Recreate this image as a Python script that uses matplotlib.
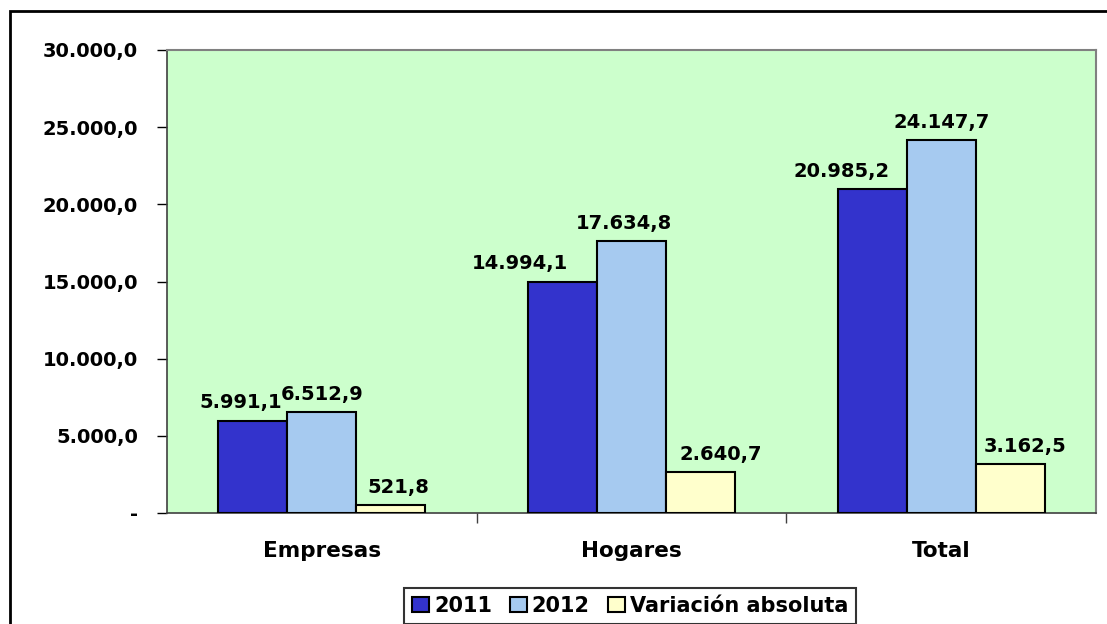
import matplotlib.pyplot as plt
import numpy as np
from matplotlib.patches import Rectangle

categories = ["Empresas", "Hogares", "Total"]
series_names = ["2011", "2012", "Variación absoluta"]
values_2011 = [5991.1, 14994.1, 20985.2]
values_2012 = [6512.9, 17634.8, 24147.7]
values_var = [521.8, 2640.7, 3162.5]
yticks = [0, 5000, 10000, 15000, 20000, 25000, 30000]

colors = ["#3333CC", "#A6CAF0", "#FFFFCC"]
# horizontal nudges (pixels) for data labels, per series / category
label_dx = [[-12, -43, -31], [0, -8, 0], [7, 20, 15]]


def fmt(v):
    if v == 0:
        return "-"
    s = f"{v:,.1f}"
    return s.replace(",", "X").replace(".", ",").replace("X", ".")


plt.rcParams["font.family"] = ["DejaVu Sans"]
plt.rcParams["font.weight"] = "bold"

fig = plt.figure(figsize=(11.07, 6.24), dpi=100)
ax = fig.add_axes([167 / 1107, 1 - 513 / 624, (1096 - 167) / 1107, (513 - 50) / 624])
ax.set_facecolor("#CCFFCC")

x = np.arange(len(categories))
w = 0.223
data = [values_2011, values_2012, values_var]
for i, (vals, col) in enumerate(zip(data, colors)):
    bars = ax.bar(x + (i - 1) * w, vals, w, color=col, edgecolor="black",
                  linewidth=1.5, label=series_names[i], zorder=3)
    for j, (b, v) in enumerate(zip(bars, vals)):
        ax.annotate(fmt(v), (b.get_x() + b.get_width() / 2, v),
                    xytext=(label_dx[i][j] * 0.72, 6), textcoords="offset points",
                    ha="center", va="bottom", fontsize=14, fontweight="bold")

ax.set_xlim(-0.5, 2.5)
ax.set_ylim(0, 30000)
ax.set_yticks(yticks)
ax.set_yticklabels([fmt(t) for t in yticks])
ax.set_xticks(x)
ax.set_xticklabels(categories)
ax.set_xticks([0.5, 1.5], minor=True)
ax.tick_params(axis="x", which="major", length=0, pad=20, labelsize=15.5)
ax.tick_params(axis="x", which="minor", length=7, width=1, color="#404040", direction="out")
ax.tick_params(axis="y", length=7, width=1, color="black", direction="out", pad=14, labelsize=14)

for s in ["top", "right"]:
    ax.spines[s].set_color("#808080")
    ax.spines[s].set_linewidth(1.5)
ax.spines["left"].set_color("#404040")
ax.spines["bottom"].set_color("#404040")
ax.spines["left"].set_linewidth(1.2)
ax.spines["bottom"].set_linewidth(1.2)

leg = ax.legend(loc="upper left", bbox_to_anchor=(404 / 1107, 1 - 588 / 624),
                bbox_transform=fig.transFigure, ncol=3, frameon=True, fancybox=False,
                fontsize=15, handlelength=0.82, handleheight=0.72, handletextpad=0.24,
                columnspacing=0.85, borderpad=0.38, borderaxespad=0)
leg.get_frame().set_edgecolor("black")
leg.get_frame().set_linewidth(1.5)

fig.patches.append(Rectangle((10 / 1107, -0.1), 1.2, 1.1 - 11 / 624,
                             transform=fig.transFigure, fill=False,
                             edgecolor="black", linewidth=2))

fig.savefig("out.png", dpi=100)
